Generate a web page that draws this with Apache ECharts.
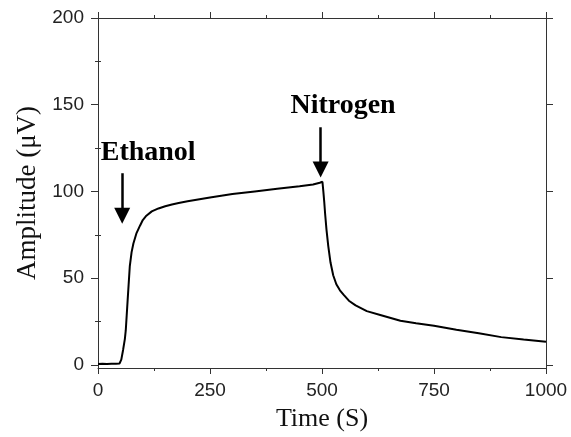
<!DOCTYPE html>
<html>
<head>
<meta charset="utf-8">
<script src="https://cdn.jsdelivr.net/npm/echarts@6/dist/echarts.min.js"></script>
<style>
  html, body { margin: 0; padding: 0; background: #fff; }
  #chart { width: 571px; height: 437px; }
</style>
</head>
<body>
<div id="chart"></div>
<script>
// time (s) and amplitude (uV)
const time = [0, 10, 20, 30, 40, 48, 52, 56, 60, 62, 66, 71, 75, 79, 86, 94, 100, 108, 120, 135, 150, 165, 180, 200, 250, 300, 350, 400, 450, 480, 495, 501, 503, 505, 507, 510, 514, 519, 525, 532, 540, 548, 560, 575, 600, 630, 675, 710, 750, 800, 850, 900, 950, 1000];
const amplitude = [0.5, 0.6, 0.5, 0.7, 0.6, 0.8, 3, 8.6, 15, 20, 36.6, 57, 65, 70, 76, 80.4, 83.5, 86, 88.5, 90.2, 91.5, 92.5, 93.3, 94.3, 96.5, 98.5, 100, 101.5, 103, 104, 105, 105.6, 100, 94, 87, 78, 68.5, 59, 51.7, 46.5, 43, 40.5, 37, 34.3, 31, 28.8, 25.4, 24, 22.5, 20.2, 18.2, 16, 14.6, 13.3];

const xMajor = [0, 250, 500, 750, 1000];
const yMajor = [0, 50, 100, 150, 200];
const yMinor = [25, 75, 125, 175];

// arrows: [x, top y, tip y]; notes: [text, x, y]
const arrows = [[54, 110.5, 86], [497, 137, 112.6]];
const notes = [["Ethanol", 112, 122.4], ["Nitrogen", 547, 149.3]];

const chart = echarts.init(document.getElementById("chart"));

const axisColor = "#333";
const sans = "'Liberation Sans', Arial, sans-serif";
const serif = "'Liberation Serif', 'Times New Roman', serif";

const xBase = {
  type: "value",
  min: 0,
  max: 1000,
  interval: 250,
  splitLine: { show: false },
  axisLine: { onZero: false, lineStyle: { color: axisColor, width: 1 } },
  axisTick: { inside: false, length: 6, lineStyle: { color: axisColor } },
  minorTick: { show: true, splitNumber: 2, length: 3, lineStyle: { color: axisColor } },
};

const yBase = {
  type: "value",
  min: -1.8,
  max: 200,
  splitLine: { show: false },
};

const option = {
  animation: false,
  backgroundColor: "#fff",
  grid: { left: 98, right: 25, top: 18, bottom: 58 },
  xAxis: [
    Object.assign({}, xBase, {
      position: "bottom",
      name: "Time (S)",
      nameLocation: "middle",
      nameGap: 38,
      nameTextStyle: { fontFamily: serif, fontSize: 26, color: "#111" },
      axisLabel: {
        margin: 13,
        fontFamily: sans,
        fontSize: 19,
        color: "#222",
        customValues: xMajor,
        formatter: (v) => String(v),
      },
    }),
    Object.assign({}, xBase, {
      position: "top",
      axisLabel: { show: false },
    }),
  ],
  yAxis: [
    Object.assign({}, yBase, {
      position: "left",
      name: "Amplitude (μV)",
      nameLocation: "middle",
      nameGap: 56,
      nameTextStyle: { fontFamily: serif, fontSize: 27, color: "#111" },
      axisLine: { show: true, onZero: false, lineStyle: { color: axisColor, width: 1 } },
      axisTick: { show: true, length: 7, lineStyle: { color: axisColor }, customValues: yMajor },
      axisLabel: { margin: 14, fontFamily: sans, fontSize: 19, color: "#222", customValues: yMajor },
    }),
    Object.assign({}, yBase, {
      position: "left",
      axisLine: { show: false },
      axisTick: { show: true, length: 3, lineStyle: { color: axisColor }, customValues: yMinor },
      axisLabel: { show: false, customValues: yMinor },
    }),
    Object.assign({}, yBase, {
      position: "right",
      axisLine: { show: true, onZero: false, lineStyle: { color: axisColor, width: 1 } },
      axisTick: { show: true, length: 7, lineStyle: { color: axisColor }, customValues: yMajor },
      axisLabel: { show: false, customValues: yMajor },
    }),
    Object.assign({}, yBase, {
      position: "right",
      axisLine: { show: false },
      axisTick: { show: true, length: 3, lineStyle: { color: axisColor }, customValues: yMinor },
      axisLabel: { show: false, customValues: yMinor },
    }),
  ],
  series: [
    {
      type: "line",
      data: time.map((t, i) => [t, amplitude[i]]),
      showSymbol: false,
      symbol: "none",
      lineStyle: { color: "#000", width: 2 },
      silent: true,
      markLine: {
        silent: true,
        symbol: ["none", "triangle"],
        symbolSize: [16, 16],
        lineStyle: { color: "#000", width: 2.5, type: "solid" },
        label: { show: false },
        data: arrows.map((a) => [{ coord: [a[0], a[1]] }, { coord: [a[0], a[2]] }]),
      },
      markPoint: {
        silent: true,
        symbol: "circle",
        symbolSize: 0,
        label: {
          show: true,
          position: "inside",
          formatter: "{b}",
          fontFamily: serif,
          fontWeight: "bold",
          fontSize: 28,
          color: "#000",
        },
        data: notes.map((n) => ({ name: n[0], coord: [n[1], n[2]] })),
      },
    },
  ],
};

chart.setOption(option);
window.onresize = function () {
  chart.resize();
};
</script>
</body>
</html>
